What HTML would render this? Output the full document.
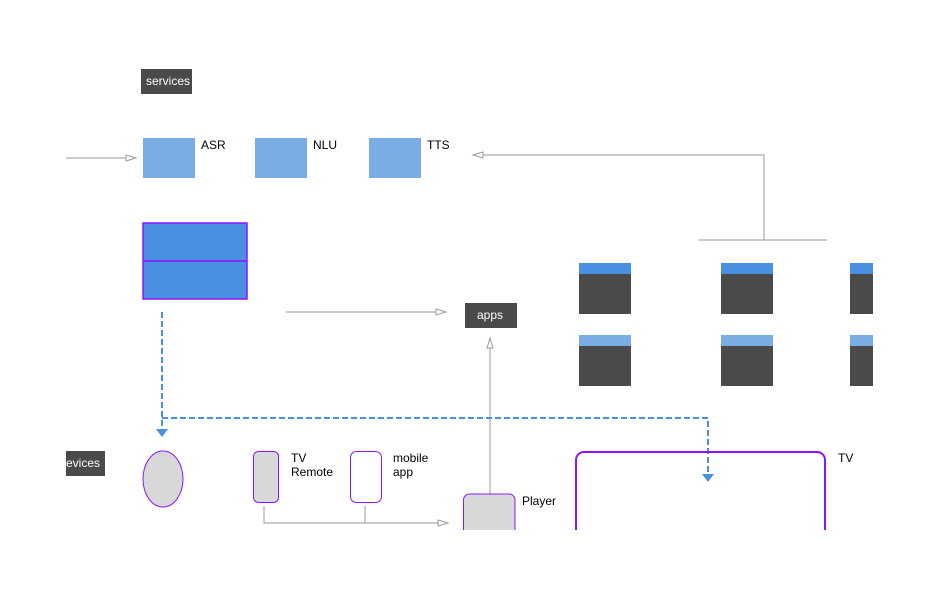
<!DOCTYPE html>
<html><head><meta charset="utf-8"><style>html,body{margin:0;padding:0;background:#fff}svg{display:block}text{font-family:"Liberation Sans",sans-serif;font-size:12px}</style></head><body>
<svg width="944" height="597" viewBox="0 0 944 597" xmlns="http://www.w3.org/2000/svg">
<rect x="141" y="69" width="51" height="25" fill="#4a4a4a"/><text x="146" y="85" fill="#fff">services</text>
<rect x="143" y="138" width="52" height="40" fill="#7aade6"/><text x="201" y="149">ASR</text>
<rect x="255" y="138" width="52" height="40" fill="#7aade6"/><text x="313" y="149">NLU</text>
<rect x="369" y="138" width="52" height="40" fill="#7aade6"/><text x="427" y="149">TTS</text>
<g stroke="#999" fill="none" stroke-width="1">
<line x1="66" y1="158" x2="126" y2="158"/><polygon points="126,155 136,158 126,161" fill="#fff"/>
<polyline points="764,240 764,155 483,155"/><polygon points="483,152 473,155 483,158" fill="#fff"/>
<line x1="699" y1="240" x2="827" y2="240"/>
<line x1="286" y1="312" x2="436" y2="312"/><polygon points="436,309 446,312 436,315" fill="#fff"/>
<line x1="490" y1="494" x2="490" y2="348"/><polygon points="487,348 490,338 493,348" fill="#fff"/>
<polyline points="264,506 264,523 438,523"/><line x1="365" y1="506" x2="365" y2="523"/><polygon points="438,520 448,523 438,526" fill="#fff"/>
</g>
<rect x="143" y="223" width="104" height="76" fill="#4a90e2" stroke="#9013fe" stroke-width="1.5"/>
<line x1="143" y1="261" x2="247" y2="261" stroke="#9013fe" stroke-width="1.5"/>
<rect x="465" y="303" width="52" height="25" fill="#4a4a4a"/><text x="477" y="319" fill="#fff">apps</text>
<g fill="#4a4a4a">
<rect x="579" y="263" width="52" height="51"/><rect x="721" y="263" width="52" height="51"/><rect x="850" y="263" width="23" height="51"/>
<rect x="579" y="335" width="52" height="51"/><rect x="721" y="335" width="52" height="51"/><rect x="850" y="335" width="23" height="51"/>
</g>
<g fill="#4a90e2"><rect x="579" y="263" width="52" height="11"/><rect x="721" y="263" width="52" height="11"/><rect x="850" y="263" width="23" height="11"/></g>
<g fill="#7aade6"><rect x="579" y="335" width="52" height="11"/><rect x="721" y="335" width="52" height="11"/><rect x="850" y="335" width="23" height="11"/></g>
<g stroke="#4a90e2" stroke-width="2" stroke-dasharray="6,3" fill="none">
<line x1="162" y1="312" x2="162" y2="430"/>
<polyline points="162,418 708,418 708,475"/>
</g>
<polygon points="156,429 168,429 162,437" fill="#4a90e2"/>
<polygon points="702,474 714,474 708,482" fill="#4a90e2"/>
<rect x="66" y="451" width="39" height="25" fill="#4a4a4a"/><text x="66" y="467" fill="#fff">evices</text>
<ellipse cx="163" cy="479" rx="20" ry="28" fill="#d8d8d8" stroke="#9013fe"/>
<rect x="253.5" y="451.5" width="25" height="51" rx="5" fill="#d8d8d8" stroke="#9013fe"/>
<text x="291" y="462">TV</text><text x="291" y="476">Remote</text>
<rect x="350.5" y="451.5" width="31" height="51" rx="6" fill="#fff" stroke="#9013fe"/>
<text x="393" y="462">mobile</text><text x="393" y="476">app</text>
<path d="M463.5,530 V500 a6,6 0 0 1 6,-6 H509 a6,6 0 0 1 6,6 V530" fill="#d8d8d8" stroke="#9013fe"/>
<text x="522" y="505">Player</text>
<path d="M576,530 V460 a8,8 0 0 1 8,-8 H817 a8,8 0 0 1 8,8 V530" fill="none" stroke="#9013fe" stroke-width="2"/>
<text x="838" y="462">TV</text>
</svg>
</body></html>
